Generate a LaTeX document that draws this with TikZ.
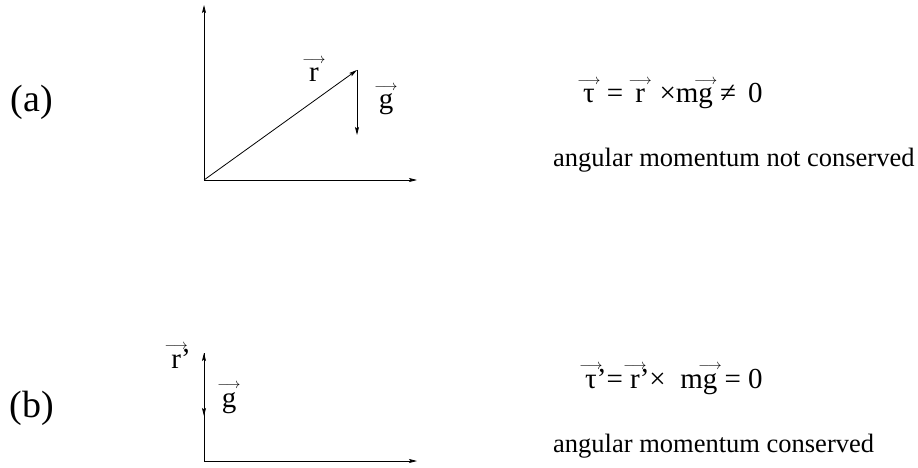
\documentclass[tikz,border=0pt]{standalone}
\usepackage{fontspec}
\setmainfont{Liberation Serif}
\usetikzlibrary{arrows.meta}
\newsavebox\vecbox
\newcommand\vecx[1]{\leavevmode\sbox\vecbox{#1}\hbox to \wd\vecbox{\hss\raisebox{0.64em}[0pt][0pt]{\hbox to 0pt{\hss$\scriptscriptstyle\longrightarrow$\hss}}\hss}\kern-\wd\vecbox\usebox\vecbox}
\begin{document}
\begin{tikzpicture}[x=1pt,y=-1pt,
  vec/.style={line width=0.8pt,-{Stealth[length=8pt,width=4pt,inset=1.5pt]}},
  panel/.style={font=\fontsize{38}{40}\selectfont,anchor=base},
  lbl/.style={font=\fontsize{29}{32}\selectfont,anchor=base,inner sep=0pt},
  eq/.style={font=\fontsize{29}{32}\selectfont,anchor=base west,inner sep=0pt},
  note/.style={font=\fontsize{26.5}{30}\selectfont,anchor=base west,inner sep=0pt}]
\useasboundingbox (0,0) rectangle (918,468);
% panel (a)
\coordinate (O1) at (204,180);
\coordinate (Y1) at (204,5);
\coordinate (X1) at (417,180);
\coordinate (R1) at (357,70);
\coordinate (G1) at (357,135);
\draw[vec] (O1) -- (Y1);
\draw[vec] (O1) -- (X1);
\draw[vec] (O1) -- (R1);
\draw[vec] (R1) -- (G1);
\node[panel] (pa) at (32,112) {(a)};
\node[lbl] (ra) at (314,82) {\vecx{r}};
\node[lbl] (ga) at (386,109) {\vecx{g}};
\node[eq] (eqa) at (583,103) {\vecx{τ}\,\ =\ \,\vecx{r}\ \ ×m\vecx{g}\ ≠\ \,0};
\node[note] (na) at (553,167) {angular momentum not conserved};
% panel (b)
\coordinate (O2) at (204,461);
\coordinate (Y2) at (204,353);
\coordinate (X2) at (417,461);
\coordinate (G2) at (204,416);
\draw[vec] (O2) -- (Y2);
\draw[vec] (O2) -- (X2);
\draw[vec] (Y2) -- (G2);
\node[panel] (pb) at (32,417) {(b)};
\node[lbl] (rb) at (181,368) {\vecx{r}’};
\node[lbl] (gb) at (229,407) {\vecx{g}};
\node[eq] (eqb) at (585,388) {\vecx{τ}’= \vecx{r}’×\ \ m\vecx{g} = 0};
\node[note] (nb) at (553,452) {angular momentum conserved};
\end{tikzpicture}
\end{document}
